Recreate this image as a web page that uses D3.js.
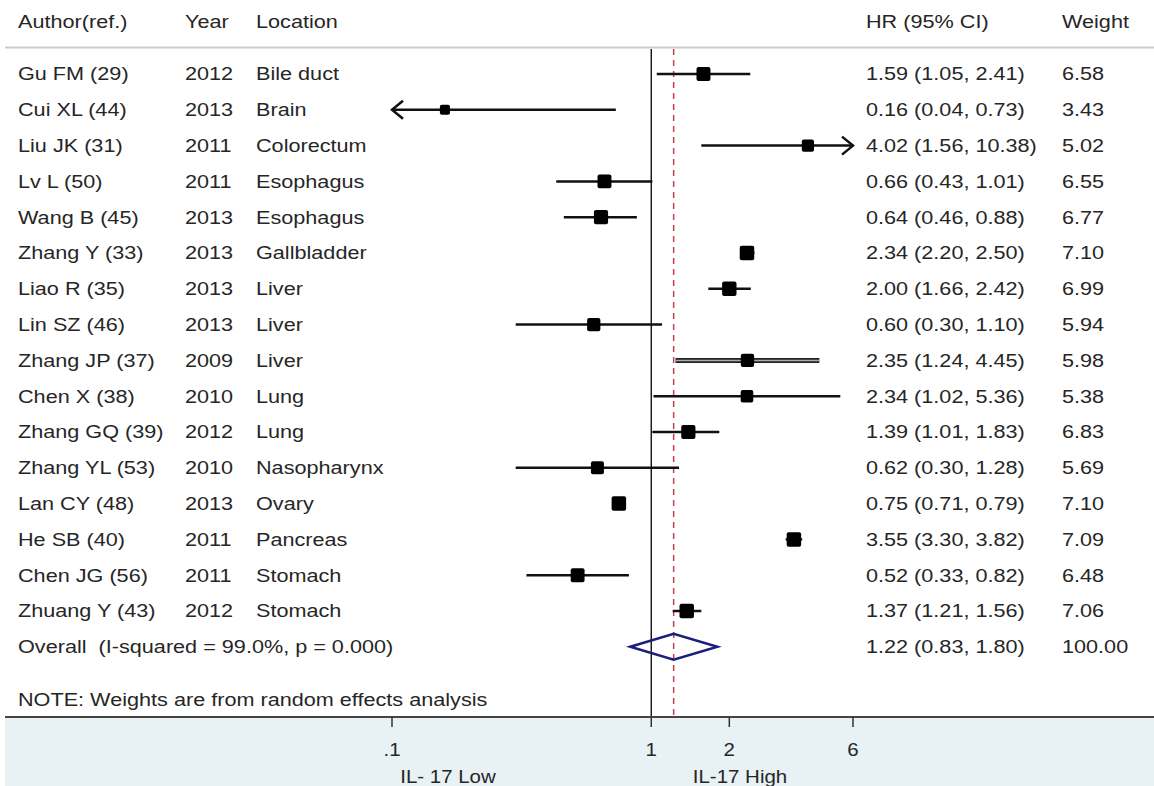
<!DOCTYPE html>
<html>
<head>
<meta charset="utf-8">
<script src="https://cdn.jsdelivr.net/npm/d3@7"></script>
<style>
body { margin: 0; background: #fff; }
svg text { font-family: "Liberation Sans", Arial, sans-serif; fill: #262626; }
</style>
</head>
<body>
<svg id="svg" width="1154" height="786"></svg>
<script>
var authors = ["Gu FM (29)", "Cui XL (44)", "Liu JK (31)", "Lv L (50)", "Wang B (45)", "Zhang Y (33)", "Liao R (35)", "Lin SZ (46)", "Zhang JP (37)", "Chen X (38)", "Zhang GQ (39)", "Zhang YL (53)", "Lan CY (48)", "He SB (40)", "Chen JG (56)", "Zhuang Y (43)"];
var years = ["2012", "2013", "2011", "2011", "2013", "2013", "2013", "2013", "2009", "2010", "2012", "2010", "2013", "2011", "2011", "2012"];
var locations = ["Bile duct", "Brain", "Colorectum", "Esophagus", "Esophagus", "Gallbladder", "Liver", "Liver", "Liver", "Lung", "Lung", "Nasopharynx", "Ovary", "Pancreas", "Stomach", "Stomach"];
var hr = [1.59, 0.16, 4.02, 0.66, 0.64, 2.34, 2.00, 0.60, 2.35, 2.34, 1.39, 0.62, 0.75, 3.55, 0.52, 1.37];
var lo = [1.05, 0.04, 1.56, 0.43, 0.46, 2.20, 1.66, 0.30, 1.24, 1.02, 1.01, 0.30, 0.71, 3.30, 0.33, 1.21];
var hi = [2.41, 0.73, 10.38, 1.01, 0.88, 2.50, 2.42, 1.10, 4.45, 5.36, 1.83, 1.28, 0.79, 3.82, 0.82, 1.56];
var weights = [6.58, 3.43, 5.02, 6.55, 6.77, 7.10, 6.99, 5.94, 5.98, 5.38, 6.83, 5.69, 7.10, 7.09, 6.48, 7.06];
var overall = {hr: 1.22, lo: 0.83, hi: 1.80, text: "1.22 (0.83, 1.80)", weight: "100.00"};
var ticks = [0.1, 1, 2, 6];
var tickLabels = [".1", "1", "2", "6"];

var svg = d3.select("#svg");
var fmt = d3.format(".2f");

var x = d3.scaleLog().domain([0.1, 6]).range([392, 853]);
var y = d3.scaleLinear().domain([0, 15]).range([74, 611]);
var size = d3.scaleSqrt().domain([0, 7.1]).range([0, 14.5]);

var axisY = 717;
var overallY = y(16);
var stretch = 1.17; // the original text is a bit wider than Arial

// text helper: the picture's font looks horizontally stretched
function label(px, py, str, fs, anchor) {
  return svg.append("text")
  .attr("transform", "translate(" + px + "," + py + ") scale(" + stretch + ",1)")
  .attr("dy", "0.35em")
  .attr("text-anchor", anchor || "start")
  .attr("xml:space", "preserve")
  .style("font-size", (fs || 18.5) + "px")
  .text(str);
}

// bottom panel
svg.append("rect")
.attr("x", 5).attr("y", axisY)
.attr("width", 1149).attr("height", 786 - axisY)
.attr("fill", "#e8f1f3");

// header
var header = [["Author(ref.)", 18], ["Year", 185], ["Location", 256], ["HR (95% CI)", 866], ["Weight", 1062]];
header.forEach(function(d){ label(d[1], 22, d[0]); });

svg.append("line")
.attr("x1", 5).attr("x2", 1154)
.attr("y1", 47.5).attr("y2", 47.5)
.attr("stroke", "#ccc").attr("stroke-width", 2);

// reference lines
svg.append("line")
.attr("x1", x(1)).attr("x2", x(1))
.attr("y1", 49).attr("y2", axisY)
.attr("stroke", "#111").attr("stroke-width", 1.4);

svg.append("line")
.attr("x1", x(overall.hr)).attr("x2", x(overall.hr))
.attr("y1", 49).attr("y2", axisY)
.attr("stroke", "#c0404f").attr("stroke-width", 1.5)
.attr("stroke-dasharray", "6,5");

// rows
var rows = d3.range(authors.length);
rows.forEach(function(i){
  var yy = y(i);
  label(18, yy, authors[i]);
  label(185, yy, years[i]);
  label(256, yy, locations[i]);
  label(866, yy, fmt(hr[i]) + " (" + fmt(lo[i]) + ", " + fmt(hi[i]) + ")");
  label(1062, yy, fmt(weights[i]));
});

// confidence intervals
var xmin = x.domain()[0], xmax = x.domain()[1];
rows.forEach(function(i){
  var x1 = x(Math.max(lo[i], xmin)), x2 = x(Math.min(hi[i], xmax));
  var yy = y(i);
  if (authors[i] == "Zhang JP (37)") {
    svg.append("line").attr("x1", x1).attr("x2", x2).attr("y1", yy).attr("y2", yy)
    .attr("stroke", "#222").attr("stroke-width", 5);
    svg.append("line").attr("x1", x1).attr("x2", x2).attr("y1", yy).attr("y2", yy)
    .attr("stroke", "#aaa").attr("stroke-width", 1.5);
  } else {
    svg.append("line").attr("x1", x1).attr("x2", x2).attr("y1", yy).attr("y2", yy)
    .attr("stroke", "#111").attr("stroke-width", 2.5);
  }
  // arrows for clipped intervals
  if (lo[i] < xmin) {
    svg.append("path")
    .attr("d", "M" + (x1 + 11) + "," + (yy - 9) + "L" + x1 + "," + yy + "L" + (x1 + 11) + "," + (yy + 9))
    .attr("fill", "none").attr("stroke", "#111").attr("stroke-width", 2.5);
  }
  if (hi[i] > xmax) {
    svg.append("path")
    .attr("d", "M" + (x2 - 11) + "," + (yy - 9) + "L" + x2 + "," + yy + "L" + (x2 - 11) + "," + (yy + 9))
    .attr("fill", "none").attr("stroke", "#111").attr("stroke-width", 2.5);
  }
  var s = size(weights[i]);
  svg.append("rect")
  .attr("x", x(hr[i]) - s / 2).attr("y", yy - s / 2)
  .attr("width", s).attr("height", s)
  .attr("rx", 2)
  .attr("fill", "#000");
});

// overall
label(18, overallY, "Overall  (I-squared = 99.0%, p = 0.000)");
label(866, overallY, overall.text);
label(1062, overallY, overall.weight);

svg.append("path")
.attr("d", "M" + x(overall.lo) + "," + overallY +
  "L" + x(overall.hr) + "," + (overallY - 13) +
  "L" + x(overall.hi) + "," + overallY +
  "L" + x(overall.hr) + "," + (overallY + 13) + "Z")
.attr("fill", "none").attr("stroke", "#1a1f7a").attr("stroke-width", 2.5);

label(18, 700, "NOTE: Weights are from random effects analysis");

// axis
svg.append("line")
.attr("x1", 5).attr("x2", 1154)
.attr("y1", axisY).attr("y2", axisY)
.attr("stroke", "#444").attr("stroke-width", 2);

svg.selectAll(".tick").data(ticks).enter().append("line")
.attr("x1", function(d){ return x(d); }).attr("x2", function(d){ return x(d); })
.attr("y1", axisY).attr("y2", axisY + 10)
.attr("stroke", "#333").attr("stroke-width", 1.5);

ticks.forEach(function(d, i){ label(x(d), 750, tickLabels[i], 17.5, "middle"); });

label(448, 777, "IL- 17 Low", 17.5, "middle");
label(740, 777, "IL-17 High", 17.5, "middle");
</script>
</body>
</html>
